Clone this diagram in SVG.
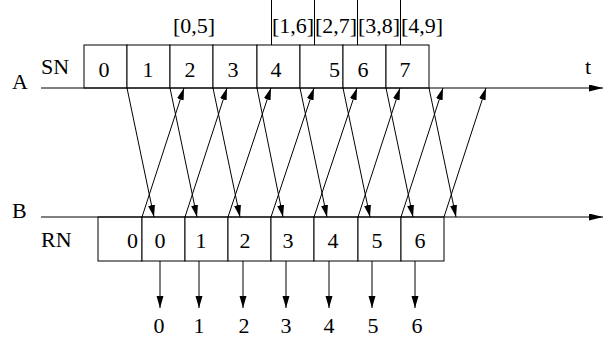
<svg xmlns="http://www.w3.org/2000/svg" width="603" height="337" viewBox="0 0 603 337" font-family="'Liberation Serif', 'Times New Roman', Times, serif" font-size="22">
<style>
text{font-family:'Liberation Serif','Times New Roman',Times,serif;font-size:22px;fill:#000}
.c{text-anchor:middle}
.r{text-anchor:end}
.box{fill:#fff;stroke:#000;stroke-width:1}
.ln{stroke:#000;stroke-width:1;fill:none}
.ar{stroke:#000;stroke-width:1;fill:none;marker-end:url(#ah)}
.ax{stroke:#000;stroke-width:1;fill:none;marker-end:url(#axh)}
</style>
<defs>
<marker id="ah" markerUnits="userSpaceOnUse" markerWidth="13" markerHeight="8" refX="12" refY="3.5" orient="auto">
<path d="M0,0 L12,3.5 L0,7 z" fill="#000"/>
</marker>
<marker id="axh" markerUnits="userSpaceOnUse" markerWidth="15" markerHeight="8" refX="14" refY="3.5" orient="auto">
<path d="M0,0 L14,3.5 L0,7 z" fill="#000"/>
</marker>
</defs>

<g id="labels">
<text x="12" y="89">A</text>
<text x="41" y="74">SN</text>
<text x="585" y="74">t</text>
<text x="12" y="218">B</text>
<text x="41" y="247">RN</text>
</g>

<g id="sn-boxes">
<g id="sn0"><rect class="box" x="84" y="45" width="43" height="43"/><text class="c" x="104" y="77">0</text></g>
<g id="sn1"><rect class="box" x="127" y="45" width="43" height="43"/><text class="c" x="148" y="77">1</text></g>
<g id="sn2"><rect class="box" x="170" y="45" width="43" height="43"/><text class="c" x="190" y="77">2</text></g>
<g id="sn3"><rect class="box" x="213" y="45" width="44" height="43"/><text class="c" x="233" y="77">3</text></g>
<g id="sn4"><rect class="box" x="257" y="45" width="43" height="43"/><text class="c" x="276" y="77">4</text></g>
<g id="sn5"><rect class="box" x="300" y="45" width="43" height="43"/><text class="r" x="340" y="77">5</text></g>
<g id="sn6"><rect class="box" x="343" y="45" width="43" height="43"/><text class="c" x="363" y="77">6</text></g>
<g id="sn7"><rect class="box" x="386" y="45" width="43" height="43"/><text class="c" x="405" y="77">7</text></g>
</g>

<g id="windows">
<text x="173" y="33">[0,5]</text>
<g id="w1"><line class="ln" x1="271.5" y1="0" x2="271.5" y2="45"/><text x="272" y="33">[1,6]</text></g>
<g id="w2"><line class="ln" x1="314.5" y1="0" x2="314.5" y2="45"/><text x="315" y="33">[2,7]</text></g>
<g id="w3"><line class="ln" x1="357.5" y1="0" x2="357.5" y2="45"/><text x="358" y="33">[3,8]</text></g>
<g id="w4"><line class="ln" x1="400.5" y1="0" x2="400.5" y2="45"/><text x="401" y="33">[4,9]</text></g>
</g>

<g id="rn-boxes">
<g id="rnA"><rect class="box" x="98" y="217" width="44" height="44"/><text class="r" x="138" y="248">0</text></g>
<g id="rn0"><rect class="box" x="142" y="217" width="43" height="44"/><text class="c" x="160" y="248">0</text></g>
<g id="rn1"><rect class="box" x="185" y="217" width="43" height="44"/><text class="c" x="201" y="248">1</text></g>
<g id="rn2"><rect class="box" x="228" y="217" width="43" height="44"/><text class="c" x="245" y="248">2</text></g>
<g id="rn3"><rect class="box" x="271" y="217" width="43" height="44"/><text class="c" x="288" y="248">3</text></g>
<g id="rn4"><rect class="box" x="314" y="217" width="44" height="44"/><text class="c" x="333" y="248">4</text></g>
<g id="rn5"><rect class="box" x="358" y="217" width="43" height="44"/><text class="c" x="377" y="248">5</text></g>
<g id="rn6"><rect class="box" x="401" y="217" width="43" height="44"/><text class="c" x="420" y="248">6</text></g>
</g>

<g id="connectors">
<line class="ax" x1="41" y1="88" x2="603" y2="88"/>
<line class="ax" x1="41" y1="217" x2="603" y2="217"/>

<line class="ar" x1="127" y1="88" x2="154" y2="217"/>
<line class="ar" x1="170" y1="88" x2="197" y2="217"/>
<line class="ar" x1="213" y1="88" x2="240" y2="217"/>
<line class="ar" x1="257" y1="88" x2="283" y2="217"/>
<line class="ar" x1="300" y1="88" x2="327" y2="217"/>
<line class="ar" x1="343" y1="88" x2="370" y2="217"/>
<line class="ar" x1="386" y1="88" x2="413" y2="217"/>
<line class="ar" x1="429" y1="88" x2="456" y2="217"/>

<line class="ar" x1="142" y1="217" x2="184" y2="88"/>
<line class="ar" x1="185" y1="217" x2="227" y2="88"/>
<line class="ar" x1="228" y1="217" x2="271" y2="88"/>
<line class="ar" x1="271" y1="217" x2="314" y2="88"/>
<line class="ar" x1="314" y1="217" x2="357" y2="88"/>
<line class="ar" x1="358" y1="217" x2="400" y2="88"/>
<line class="ar" x1="401" y1="217" x2="443" y2="88"/>
<line class="ar" x1="444" y1="217" x2="486" y2="88"/>

<line class="ar" x1="160" y1="261" x2="160" y2="308"/>
<line class="ar" x1="199" y1="261" x2="199" y2="308"/>
<line class="ar" x1="243" y1="261" x2="243" y2="308"/>
<line class="ar" x1="286" y1="261" x2="286" y2="308"/>
<line class="ar" x1="329" y1="261" x2="329" y2="308"/>
<line class="ar" x1="372" y1="261" x2="372" y2="308"/>
<line class="ar" x1="415" y1="261" x2="415" y2="308"/>
</g>

<g id="delivered">
<text class="c" x="159" y="333">0</text>
<text class="c" x="199" y="333">1</text>
<text class="c" x="244" y="333">2</text>
<text class="c" x="286" y="333">3</text>
<text class="c" x="329" y="333">4</text>
<text class="c" x="373" y="333">5</text>
<text class="c" x="417" y="333">6</text>
</g>
</svg>
